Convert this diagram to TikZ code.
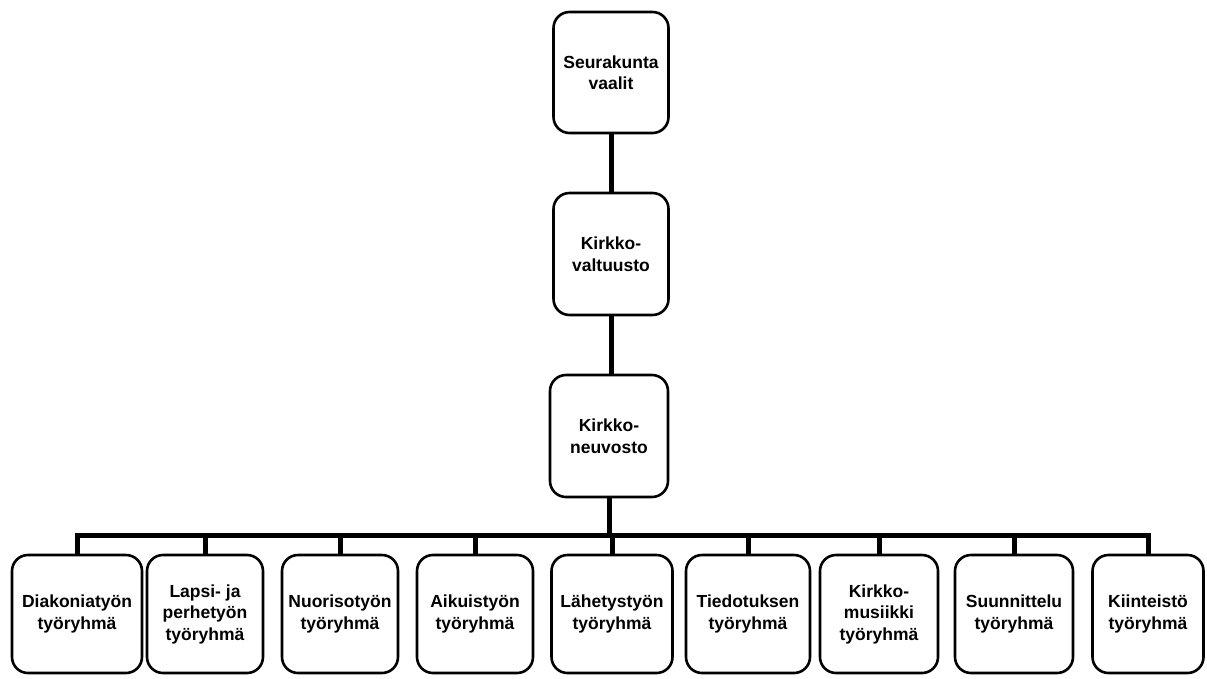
\documentclass[tikz,border=0pt]{standalone}
\usepackage{fontspec}
\setmainfont{Liberation Sans}
\begin{document}
\begin{tikzpicture}[x=1pt,y=-1pt,
  box/.style={draw=black, line width=2.6pt, rounded corners=16pt, inner sep=0pt,
    align=center, font=\bfseries\fontsize{17.5}{21.5}\selectfont, text=black},
  conn/.style={draw=black, line width=5pt}]
\useasboundingbox[fill=white] (0,0) rectangle (1207,678);
\node[box, minimum width=115pt, minimum height=121pt] (k1) at (611,72.5) {Seurakunta\\vaalit};
\node[box, minimum width=115pt, minimum height=122pt] (k2) at (611,254) {Kirkko-\\valtuusto};
\node[box, minimum width=118pt, minimum height=122pt] (k3) at (609,436) {Kirkko-\\neuvosto};
\coordinate (bus) at (610,535);
\foreach \n/\x/\w/\t in {
  1/77/130/{Diakoniatyön\\työryhmä},
  2/205/116/{Lapsi- ja\\perhetyön\\työryhmä},
  3/340/116/{Nuorisotyön\\työryhmä},
  4/475/116/{Aikuistyön\\työryhmä},
  5/612/121/{Lähetystyön\\työryhmä},
  6/748/124/{Tiedotuksen\\työryhmä},
  7/879/118/{Kirkko-\\musiikki\\työryhmä},
  8/1014/118/{Suunnittelu\\työryhmä},
  9/1148/111/{Kiinteistö\\työryhmä}}{
  \node[box, minimum width=\w pt, minimum height=118pt] (b\n) at (\x,614) {\t};
}
\draw[conn] (k1.south) -- (k1.south |- k2.north);
\draw[conn] (k2.south) -- (k2.south |- k3.north);
\draw[conn] (k3.south) -- (k3.south |- bus);
\draw[conn, line cap=rect] (b1.north |- bus) -- (b9.north |- bus);
\foreach \n in {1,...,9}{
  \draw[conn] (b\n.north) -- (b\n.north |- bus);
}
\end{tikzpicture}
\end{document}
